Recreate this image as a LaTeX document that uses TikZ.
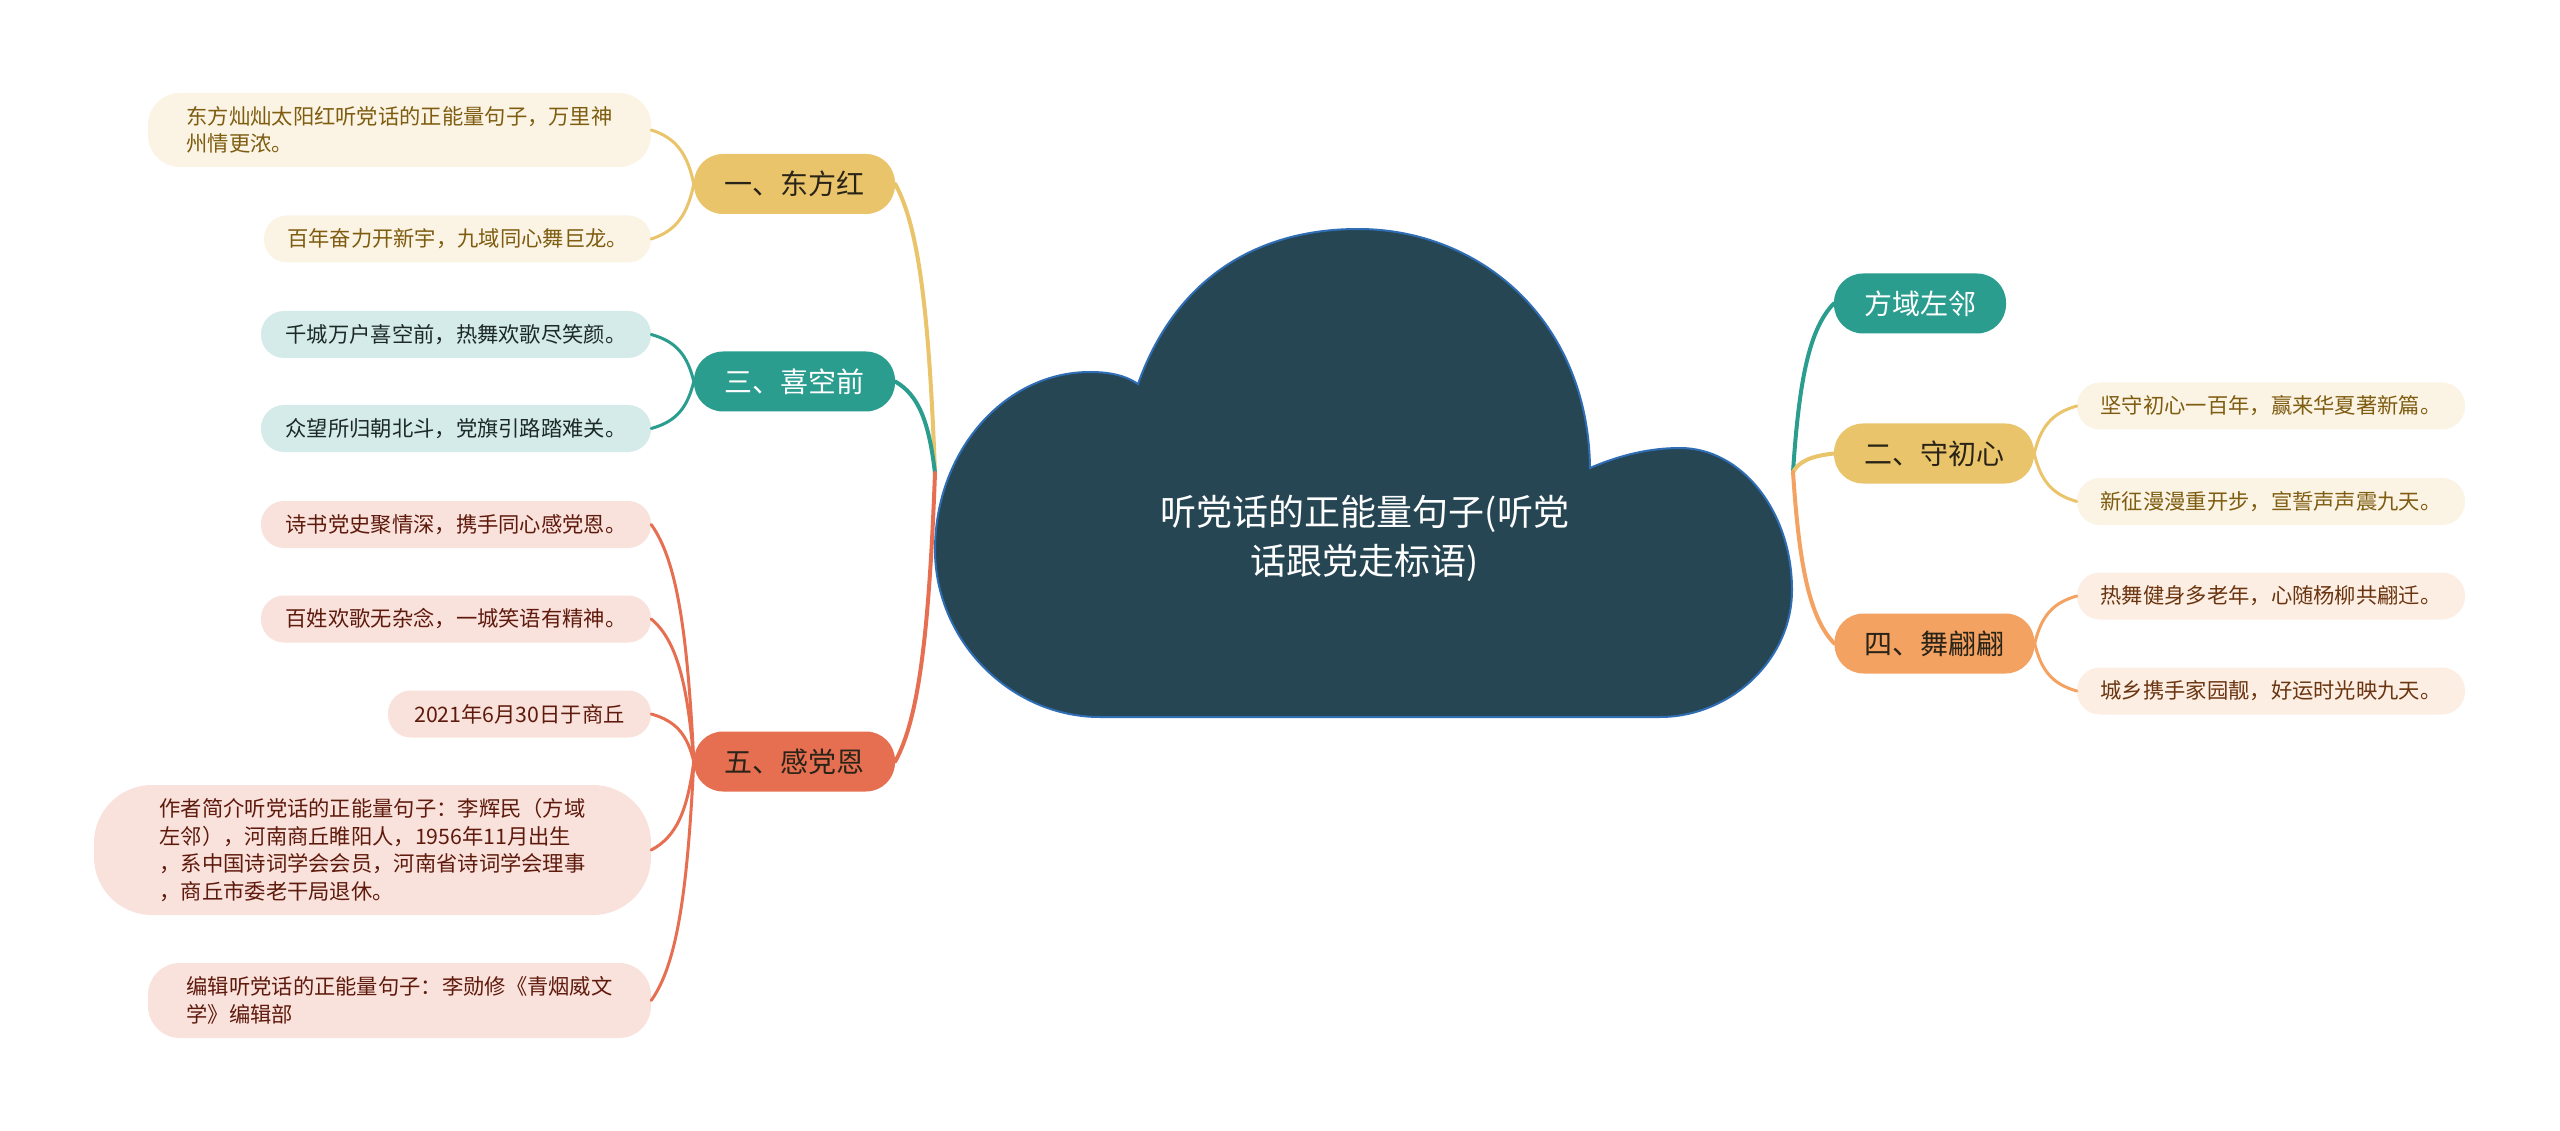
\documentclass[tikz,border=0pt]{standalone}
\usepackage{fontspec}
\setmainfont{Noto Sans CJK SC}
\usetikzlibrary{calc}
\definecolor{cloudc}{HTML}{264653}
\definecolor{cloudedge}{HTML}{2F6DB5}
\definecolor{tealc}{HTML}{2A9D8F}
\definecolor{yelc}{HTML}{E9C46A}
\definecolor{orac}{HTML}{F4A261}
\definecolor{redc}{HTML}{E76F51}
\definecolor{ytext}{HTML}{7E5C10}
\definecolor{ttext}{HTML}{1C2927}
\definecolor{rtext}{HTML}{5E1A0C}
\definecolor{otext}{HTML}{6A3510}
\definecolor{dtext}{HTML}{2A2418}
\newcommand\mmlink[3]{\draw[#1] let \p1=(#2), \p2=(#3) in (\p1) .. controls ({\x1+0.6*(\x2-\x1)},{\y1+0.15*(\y2-\y1)}) and ({\x2-0.15*(\x2-\x1)},{\y2-0.55*(\y2-\y1)}) .. (\p2);}
\tikzset{
  branch/.style={rectangle, rounded corners=29pt, minimum height=60pt, inner sep=0pt, font=\fontsize{28}{34}\selectfont},
  leaf/.style={rectangle, rounded corners=23pt, minimum height=47pt, inner sep=0pt, align=left, font=\fontsize{21.3}{27.5}\selectfont},
  yleaf/.style={leaf, fill=yelc!18!white, text=ytext},
  tleaf/.style={leaf, fill=tealc!20!white, text=ttext},
  rleaf/.style={leaf, fill=redc!20!white, text=rtext},
  oleaf/.style={leaf, fill=orac!18!white, text=otext},
  mainln/.style={line width=4pt, line cap=round},
  leafln/.style={line width=3pt, line cap=round}
}
\begin{document}
\begin{tikzpicture}[x=1pt,y=-1pt]
\useasboundingbox (0,0) rectangle (2560,1131);
\fill[white] (0,0) rectangle (2560,1131);
% cloud
\draw[fill=cloudc, draw=cloudedge, line width=2pt]
  (935,550) .. controls (935,452) and (1004,372) .. (1090,372)
  .. controls (1108,372) and (1125,375) .. (1138,384)
  .. controls (1175,280) and (1255,229) .. (1358,229)
  .. controls (1480,229) and (1588,320) .. (1590,468)
  .. controls (1620,455) and (1650,448) .. (1680,448)
  .. controls (1742,448) and (1792,512) .. (1792,590)
  .. controls (1792,660) and (1730,717) .. (1660,717)
  -- (1100,717)
  .. controls (1010,717) and (935,640) .. (935,550) -- cycle;
\node[text=white, align=center, font=\fontsize{36}{49}\selectfont] (title) at (1365,538) {听党话的正能量句子(听党\\话跟党走标语)};
\coordinate (JL) at (935,473);
\coordinate (JR) at (1793,472);
% left branches
\node[branch, fill=yelc, text=dtext, minimum width=201pt] (b1) at (794.5,184) {一、东方红};
\node[branch, fill=tealc, text=white, minimum width=201pt] (b3) at (794.5,381.5) {三、喜空前};
\node[branch, fill=redc, text=dtext, minimum width=201pt] (b5) at (794.5,761.5) {五、感党恩};
% right branches
\node[branch, fill=tealc, text=white, minimum width=172pt] (b0) at (1920,303.5) {方域左邻};
\node[branch, fill=yelc, text=dtext, minimum width=200pt] (b2) at (1934,453.5) {二、守初心};
\node[branch, fill=orac, text=dtext, minimum width=200pt] (b4) at (1934.5,643.5) {四、舞翩翩};
% left leaves
\node[yleaf, minimum width=503pt, minimum height=74pt, rounded corners=32pt] (l1a) at (399.5,130) {东方灿灿太阳红听党话的正能量句子，万里神\\州情更浓。};
\node[yleaf, minimum width=387pt] (l1b) at (457.5,239) {百年奋力开新宇，九域同心舞巨龙。};
\node[tleaf, minimum width=390pt] (l3a) at (456,334.5) {千城万户喜空前，热舞欢歌尽笑颜。};
\node[tleaf, minimum width=390pt] (l3b) at (456,428.5) {众望所归朝北斗，党旗引路踏难关。};
\node[rleaf, minimum width=390pt] (l5a) at (456,524.5) {诗书党史聚情深，携手同心感党恩。};
\node[rleaf, minimum width=390pt] (l5b) at (456,619) {百姓欢歌无杂念，一城笑语有精神。};
\node[rleaf, minimum width=263pt] (l5c) at (519.5,714) {2021年6月30日于商丘};
\node[rleaf, minimum width=557pt, minimum height=130pt, rounded corners=58pt] (l5d) at (372.5,850) {作者简介听党话的正能量句子：李辉民（方域\\左邻），河南商丘睢阳人，1956年11月出生\\，系中国诗词学会会员，河南省诗词学会理事\\，商丘市委老干局退休。};
\node[rleaf, minimum width=503pt, minimum height=75pt, rounded corners=32pt] (l5e) at (399.5,1000.5) {编辑听党话的正能量句子：李勋修《青烟威文\\学》编辑部};
% right leaves
\node[yleaf, minimum width=388pt] (r2a) at (2271,406) {坚守初心一百年，赢来华夏著新篇。};
\node[yleaf, minimum width=388pt] (r2b) at (2271,501.5) {新征漫漫重开步，宣誓声声震九天。};
\node[oleaf, minimum width=388pt] (r4a) at (2271,596) {热舞健身多老年，心随杨柳共翩迁。};
\node[oleaf, minimum width=388pt] (r4b) at (2271,691) {城乡携手家园靓，好运时光映九天。};
% main connectors
\mmlink{mainln, yelc}{b1.east}{JL}
\mmlink{mainln, tealc}{b3.east}{JL}
\mmlink{mainln, redc}{b5.east}{JL}
\mmlink{mainln, tealc}{b0.west}{JR}
\mmlink{mainln, yelc}{b2.west}{JR}
\mmlink{mainln, orac}{b4.west}{JR}
% leaf connectors
\mmlink{leafln, yelc}{l1a.east}{b1.west}
\mmlink{leafln, yelc}{l1b.east}{b1.west}
\mmlink{leafln, tealc}{l3a.east}{b3.west}
\mmlink{leafln, tealc}{l3b.east}{b3.west}
\mmlink{leafln, redc}{l5a.east}{b5.west}
\mmlink{leafln, redc}{l5b.east}{b5.west}
\mmlink{leafln, redc}{l5c.east}{b5.west}
\mmlink{leafln, redc}{l5d.east}{b5.west}
\mmlink{leafln, redc}{l5e.east}{b5.west}
\mmlink{leafln, yelc}{r2a.west}{b2.east}
\mmlink{leafln, yelc}{r2b.west}{b2.east}
\mmlink{leafln, orac}{r4a.west}{b4.east}
\mmlink{leafln, orac}{r4b.west}{b4.east}
\end{tikzpicture}
\end{document}
